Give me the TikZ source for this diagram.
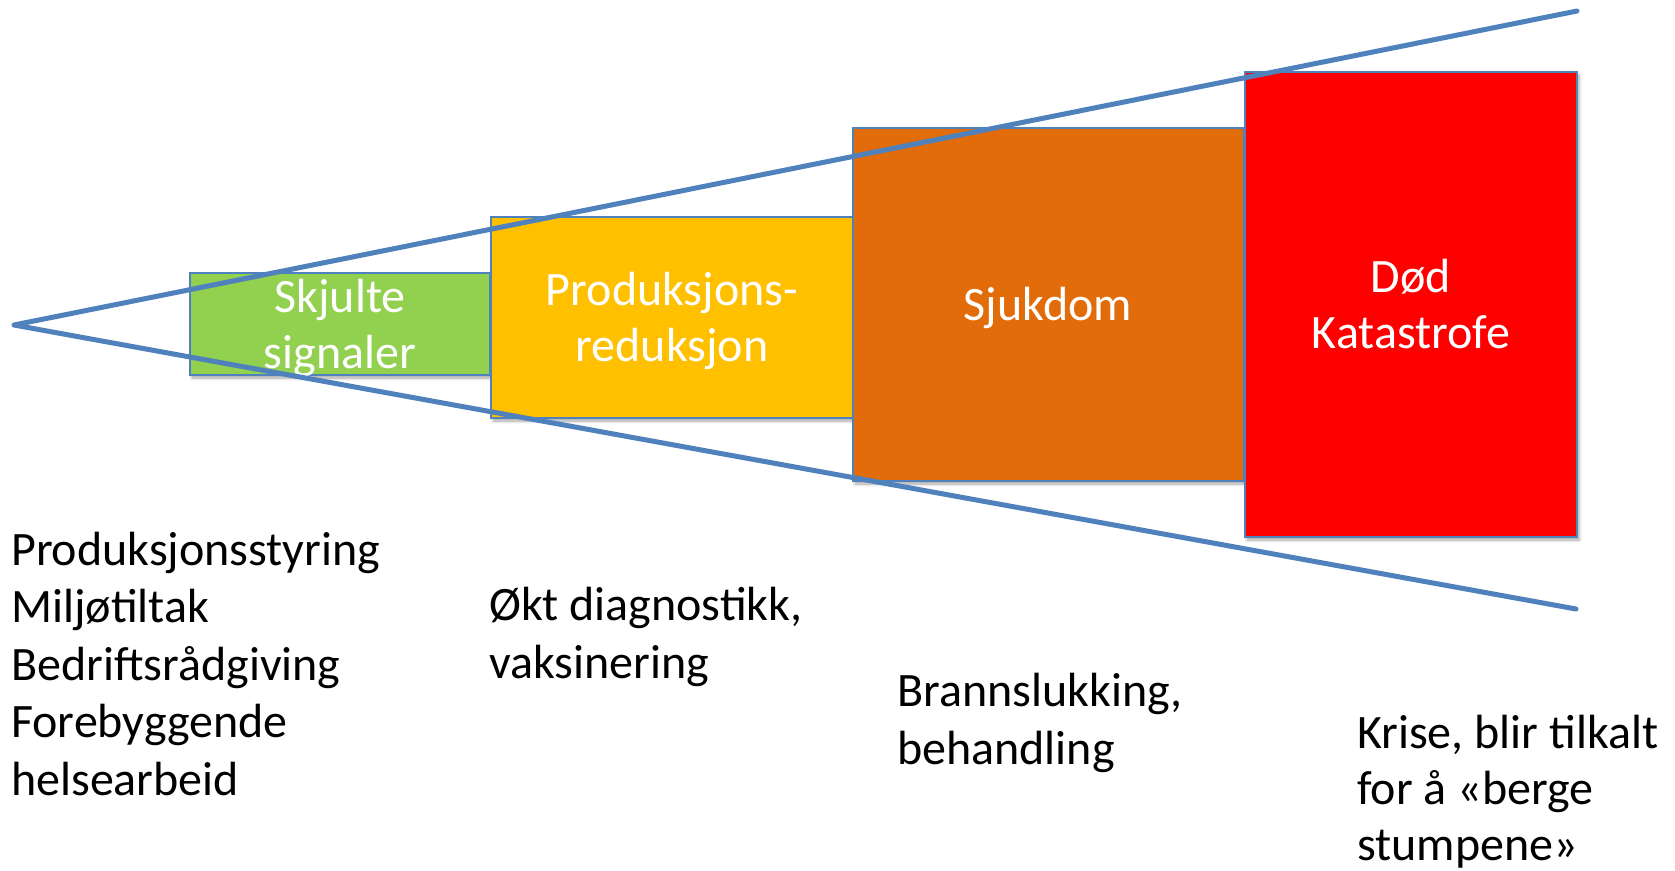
\documentclass[tikz,border=0pt]{standalone}
\usepackage{fontspec}
\setmainfont{Carlito}
\usetikzlibrary{shadows.blur}
\definecolor{lineblue}{HTML}{4F81BD}
\definecolor{boxgreen}{HTML}{92D050}
\definecolor{boxyellow}{HTML}{FFC000}
\definecolor{boxorange}{HTML}{E36C0A}
\definecolor{boxred}{HTML}{FF0000}
\tikzset{
  stagebox/.style={draw=lineblue, line width=1.5pt, inner sep=0pt, outer sep=0pt,
    blur shadow={shadow xshift=2pt, shadow yshift=-3pt, shadow blur radius=3pt, shadow opacity=35}},
  boxtext/.style={text=white, align=center, inner sep=0pt, anchor=base,
    font=\fontsize{48}{56}\selectfont},
  sidetext/.style={text=black, align=left, inner sep=0pt, anchor=base west,
    font=\fontsize{48}{57.5}\selectfont},
  wedge/.style={draw=lineblue, line width=5pt, line join=round, line cap=round}
}
\begin{document}
\begin{tikzpicture}[x=1pt,y=-1pt]
\useasboundingbox (0,0) rectangle (1675,870);
% boxes
\node[stagebox, fill=boxgreen, minimum width=300pt, minimum height=102pt, anchor=north west] (g) at (190,273) {};
\node[stagebox, fill=boxyellow, minimum width=362pt, minimum height=201pt, anchor=north west] (yb) at (491,217) {};
\node[stagebox, fill=boxorange, minimum width=391pt, minimum height=353pt, anchor=north west] (o) at (853,128) {};
\node[stagebox, fill=boxred, minimum width=332pt, minimum height=465pt, anchor=north west] (r) at (1245,72) {};
% box texts (anchor base = baseline of the last line)
\node[boxtext] (tg) at (340,368) {Skjulte\\signaler};
\node[boxtext] (ty) at (672,361) {Produksjons-\\reduksjon};
\node[boxtext] (to) at (1048,320) {Sjukdom};
\node[boxtext] (tr) at (1411,348) {Død\\Katastrofe};
% wedge lines
\coordinate (apex) at (14,325);
\coordinate (upend) at (1577,11);
\coordinate (lowend) at (1576,609);
\draw[wedge] (upend) -- (apex) -- (lowend);
% side texts (anchor base west = baseline of the last line)
\node[sidetext] (s1) at (11,795) {Produksjonsstyring\\Miljøtiltak\\Bedriftsrådgiving\\Forebyggende\\helsearbeid};
\node[sidetext] (s2) at (489,678) {Økt diagnostikk,\\vaksinering};
\node[sidetext] (s3) at (897,764) {Brannslukking,\\behandling};
\node[sidetext, font=\fontsize{48}{56}\selectfont] (s4) at (1357,860) {Krise, blir tilkalt\\for å «berge\\stumpene»};
\end{tikzpicture}
\end{document}
